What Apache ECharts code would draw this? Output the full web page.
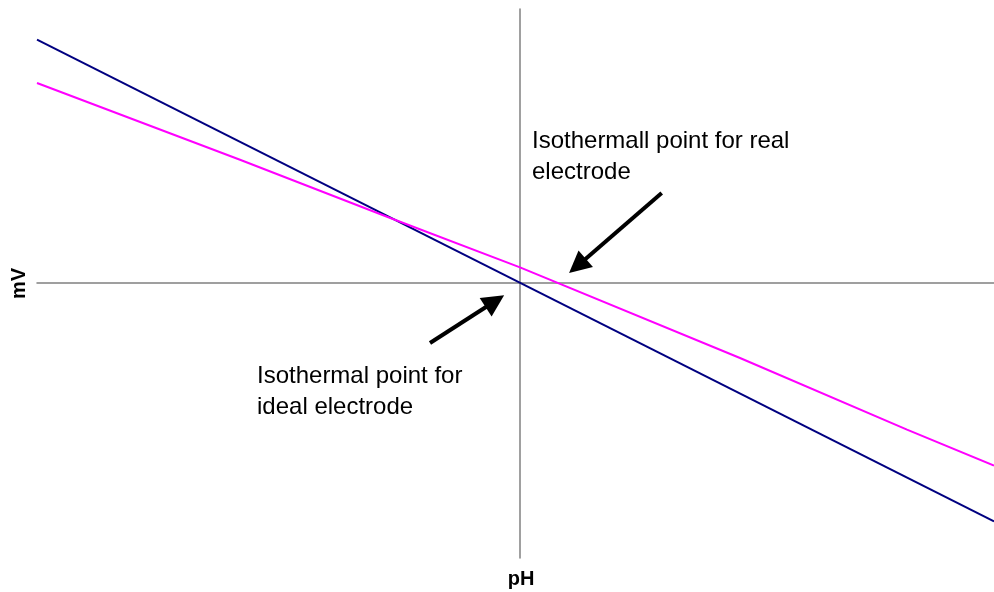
<!DOCTYPE html>
<html><head><meta charset="utf-8">
<script src="https://cdn.jsdelivr.net/npm/echarts@6/dist/echarts.min.js"></script>
<style>html,body{margin:0;padding:0;background:#fff}#c{width:994px;height:592px}</style>
</head><body><div id="c"></div>
<script>
// Ideal electrode (navy) line: pH (arbitrary units, 0 = axis crossing) vs mV
const phIdeal = [-4.83, 4.74];
const mvIdeal = [2.433, -2.384];
// Real electrode (magenta) line
const phReal = [-4.83, -2.80, -1.33, 0, 2.20, 3.87, 4.74];
const mvReal = [2.00, 1.233, 0.663, 0.156, -0.75, -1.467, -1.827];
// Annotation arrows [tail, head] in data units
const arrowReal = [[1.417, 0.90], [0.574, 0.171]];
const arrowIdeal = [[-0.90, -0.60], [-0.251, -0.182]];
// Texts
const labelReal = 'Isothermall point for real\nelectrode';
const labelIdeal = 'Isothermal point for\nideal electrode';
const xName = 'pH';
const yName = 'mV';

const chart = echarts.init(document.getElementById('c'), null, {renderer: 'canvas'});
const font = '"Liberation Sans", Arial, sans-serif';
const pairs = (xs, ys) => xs.map((x, i) => [x, ys[i]]);

chart.setOption({
  animation: false,
  backgroundColor: '#ffffff',
  grid: {left: 37, right: 0, top: 9, bottom: 34, containLabel: false, outerBoundsMode: 'none'},
  xAxis: {
    type: 'value', min: -4.83, max: 4.74,
    axisLine: {show: true, onZero: true, lineStyle: {color: '#808080', width: 1.5}},
    axisTick: {show: false}, axisLabel: {show: false}, splitLine: {show: false},
    name: xName, nameLocation: 'middle', nameGap: 11,
    nameTextStyle: {fontFamily: font, fontSize: 20, fontWeight: 'bold', color: '#000', padding: [0, 0, 0, 11]}
  },
  yAxis: {
    type: 'value', min: -2.75, max: 2.74,
    axisLine: {show: true, onZero: true, lineStyle: {color: '#808080', width: 1.5}},
    axisTick: {show: false}, axisLabel: {show: false}, splitLine: {show: false},
    name: yName, nameLocation: 'middle', nameGap: 8,
    nameTextStyle: {fontFamily: font, fontSize: 20, fontWeight: 'bold', color: '#000'}
  },
  series: [
    {
      type: 'line', data: pairs(phIdeal, mvIdeal), showSymbol: false,
      lineStyle: {color: '#000080', width: 2}, itemStyle: {color: '#000080'}, silent: true,
      markLine: {
        silent: true, symbol: ['none', 'triangle'], symbolSize: 22,
        label: {show: false},
        lineStyle: {color: '#000', width: 4, type: 'solid'},
        itemStyle: {color: '#000'},
        data: [
          [{coord: arrowReal[0]}, {coord: arrowReal[1]}],
          [{coord: arrowIdeal[0]}, {coord: arrowIdeal[1]}]
        ]
      }
    },
    {
      type: 'line', data: pairs(phReal, mvReal), showSymbol: false,
      lineStyle: {color: '#FF00FF', width: 2}, itemStyle: {color: '#FF00FF'}, silent: true
    }
  ],
  graphic: [
    {type: 'text', left: 532, top: 126, silent: true,
     style: {text: labelReal, fontFamily: font, fontSize: 24, lineHeight: 31, fill: '#000'}},
    {type: 'text', left: 257, top: 361, silent: true,
     style: {text: labelIdeal, fontFamily: font, fontSize: 24, lineHeight: 31, fill: '#000'}}
  ]
});
</script></body></html>
